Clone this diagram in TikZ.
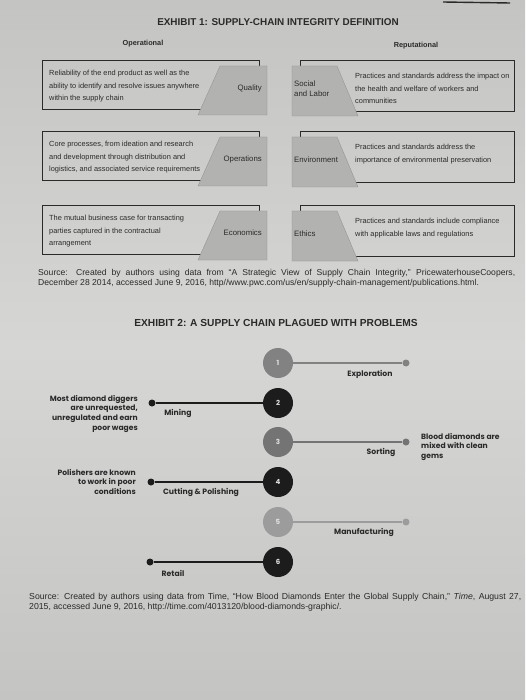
\documentclass[tikz,border=0pt]{standalone}
\usepackage{fontspec}
\setmainfont{Liberation Sans}
\newfontfamily\chainfont{Poppins}

\definecolor{paperedge}{HTML}{C4C4C2}
\definecolor{papermid}{HTML}{D6D6D4}
\definecolor{ink}{HTML}{2A2A2A}
\definecolor{tabgray}{HTML}{B2B2B0}
\definecolor{stopA}{HTML}{828282}
\definecolor{stopB}{HTML}{1C1C1C}
\definecolor{stopC}{HTML}{747474}
\definecolor{stopD}{HTML}{9C9C9C}

\begin{document}
\begin{tikzpicture}[x=1pt,y=-1pt,
    boxline/.style={draw=ink,line width=0.9pt},
    tab/.style={fill=tabgray,draw=tabgray!80!black,line width=0.3pt},
    desc/.style={inner sep=0pt,align=left,text=ink,font=\fontsize{7.4}{12.5}\selectfont},
    tablabel/.style={inner sep=0pt,text=ink,font=\fontsize{7.8}{10}\selectfont},
    heading/.style={inner sep=0pt,text=ink,font=\bfseries\fontsize{9.9}{12}\selectfont},
    side/.style={inner sep=0pt,text=ink,font=\bfseries\fontsize{7.3}{9}\selectfont},
    source/.style={inner sep=0pt,text=ink,align=justify,font=\fontsize{8.6}{9.8}\selectfont},
    stop/.style={circle,minimum size=30pt,inner sep=0pt,text=white!88!black,
                 font=\chainfont\bfseries\fontsize{7}{8}\selectfont},
    endpt/.style={circle,minimum size=7pt,inner sep=0pt},
    spoke/.style={line width=1.8pt},
    steplabel/.style={inner sep=0pt,text=ink,font=\chainfont\bfseries\fontsize{7.7}{9}\selectfont},
    note/.style={inner sep=0pt,text=ink,font=\chainfont\bfseries\fontsize{7.6}{9.7}\selectfont}]

  \shade[top color=paperedge,bottom color=paperedge,middle color=papermid]
    (0,0) rectangle (525,700);
  \useasboundingbox (0,0) rectangle (525,700);
  \draw[line width=1.4pt,ink] (443,2) -- (510,3);

  % exhibit 1
  \node[heading] (title1) at (278,22) {EXHIBIT 1: SUPPLY-CHAIN INTEGRITY DEFINITION};
  \node[side] (oper) at (143,44) {Operational};
  \node[side] (reput) at (416,46) {Reputational};

  \foreach \i/\yt/\lname/\ltext/\rname/\rtext in {%
      1/60/Quality/{Reliability of the end product as well as the\\ability to identify and resolve issues anywhere\\within the supply chain}/{Social\\and Labor}/{Practices and standards address the impact on\\the health and welfare of workers and\\communities},
      2/131/Operations/{Core processes, from ideation and research\\and development through distribution and\\logistics, and associated service requirements}/Environment/{Practices and standards address the\\importance of environmental preservation},
      3/205/Economics/{The mutual business case for transacting\\parties captured in the contractual\\arrangement}/Ethics/{Practices and standards include compliance\\with applicable laws and regulations}} {
    \draw[boxline] (42,\yt) rectangle (259,\yt+49);
    \filldraw[tab] (220,\yt+6) -- (267,\yt+6) -- (267,\yt+55) -- (198,\yt+55) -- cycle;
    \draw[boxline] (300,\yt) rectangle (514,\yt+51);
    \filldraw[tab] (292,\yt+6) -- (337,\yt+6) -- (358,\yt+56) -- (292,\yt+56) -- cycle;
    \node[desc,anchor=north west] (ld\i) at (49,\yt+10) {\ltext};
    \node[tablabel,anchor=east] (lt\i) at (262,\yt+28) {\lname};
    \node[tablabel,anchor=west,align=left] (rt\i) at (294,\yt+29) {\rname};
    \node[desc,anchor=north west] (rd\i) at (355,\yt+13) {\rtext};
  }

  \node[source,anchor=north west,text width=477pt] (src1) at (38,269)
    {Source: Created by authors using data from ``A Strategic View of Supply Chain Integrity,'' PricewaterhouseCoopers,\linebreak December 28 2014, accessed June 9, 2016, http//www.pwc.com/us/en/supply-chain-management/publications.html.};

  % exhibit 2
  \node[heading,font=\bfseries\fontsize{10.2}{12}\selectfont] (title2) at (276,323)
    {EXHIBIT 2: A SUPPLY CHAIN PLAGUED WITH PROBLEMS};

  \def\cx{278}
  \foreach \n/\y/\ex/\col in {1/363/406/stopA, 2/403/152/stopB, 3/442/406/stopC,
                              4/482/151/stopB, 5/522/406/stopD, 6/562/150/stopB} {
    \node[stop,fill=\col] (s\n) at (\cx,\y) {\n};
    \node[endpt,fill=\col] (e\n) at (\ex,\y) {};
    \draw[spoke,draw=\col] (s\n) -- (e\n);
  }

  \node[steplabel] (lab1) at (370,374) {Exploration};
  \node[steplabel] (lab2) at (178,413) {Mining};
  \node[steplabel] (lab3) at (381,452) {Sorting};
  \node[steplabel] (lab4) at (201,492) {Cutting \& Polishing};
  \node[steplabel] (lab5) at (364,532) {Manufacturing};
  \node[steplabel] (lab6) at (173,573) {Retail};

  \node[note,anchor=north east,align=right] (note2) at (138,395)
    {Most diamond diggers\\are unrequested,\\unregulated and earn\\poor wages};
  \node[note,anchor=north west,align=left] (note3) at (421,433)
    {Blood diamonds are\\mixed with clean\\gems};
  \node[note,anchor=north east,align=right] (note4) at (136,469)
    {Polishers are known\\to work in poor\\conditions};

  \node[source,anchor=north west,text width=492pt,font=\fontsize{8.7}{9.8}\selectfont] (src2) at (29,593)
    {Source: Created by authors using data from Time, ``How Blood Diamonds Enter the Global Supply Chain,'' \textit{Time}, August 27,\linebreak 2015, accessed June 9, 2016, http://time.com/4013120/blood-diamonds-graphic/.};

\end{tikzpicture}
\end{document}
